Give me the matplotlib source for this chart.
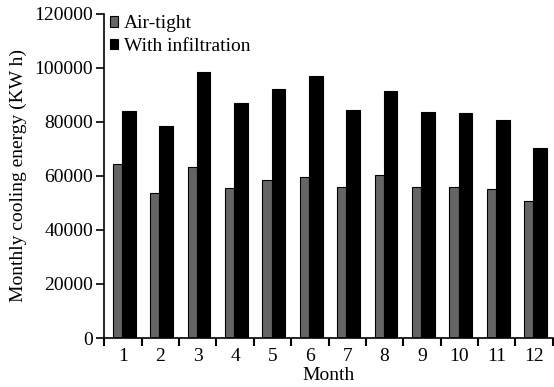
import matplotlib
matplotlib.use("Agg")
import matplotlib.pyplot as plt
import numpy as np

months = ["1", "2", "3", "4", "5", "6", "7", "8", "9", "10", "11", "12"]
air_tight = [64500, 53800, 63200, 55400, 58500, 59600, 55700, 60200, 55800, 56000, 55300, 50600]
infiltration = [84000, 78600, 98300, 87000, 92000, 97000, 84400, 91500, 83800, 83300, 80700, 70300]
yticks = [0, 20000, 40000, 60000, 80000, 100000, 120000]

plt.rcParams['font.family'] = ['Liberation Serif', 'DejaVu Serif']
plt.rcParams['font.size'] = 14

fig = plt.figure(figsize=(5.54, 3.87), dpi=100)
ax = fig.add_axes([0.188, 0.1266, 0.81, 0.838])

x = np.arange(len(months))
ax.bar(x - 0.27, air_tight, width=0.25, align='edge', color='#656565',
       edgecolor='black', linewidth=0.8, label='Air-tight')
ax.bar(x - 0.02, infiltration, width=0.36, align='edge', color='black',
       edgecolor='black', linewidth=0.8, label='With infiltration')

ax.set_xlim(-0.5, 11.5)
ax.set_ylim(0, 120000)
ax.set_yticks(yticks)
ax.set_yticklabels([str(v) for v in yticks])
ax.set_xticks(np.arange(-0.5, 12, 1.0))
ax.set_xticklabels([])
ax.set_xticks(x, minor=True)
ax.set_xticklabels(months, minor=True)
ax.tick_params(axis='x', which='minor', length=0, pad=7)
ax.tick_params(axis='x', which='major', direction='out', length=6, width=1.5)
ax.tick_params(axis='y', direction='out', length=6, width=1.2, pad=2)

for s in ['top', 'right']:
    ax.spines[s].set_visible(False)
ax.spines['left'].set_linewidth(1.2)
ax.spines['bottom'].set_linewidth(1.2)

ax.set_xlabel('Month', labelpad=1.5)
ax.set_ylabel('Monthly cooling energy (KW h)')
ax.yaxis.set_label_coords(-0.172, 0.5)

leg = ax.legend(loc='upper left', bbox_to_anchor=(0.012, 0.995), frameon=False,
                handlelength=0.45, handleheight=0.45, handletextpad=0.3,
                labelspacing=0.3, borderaxespad=0, borderpad=0)

fig.savefig('out.png', dpi=100)
